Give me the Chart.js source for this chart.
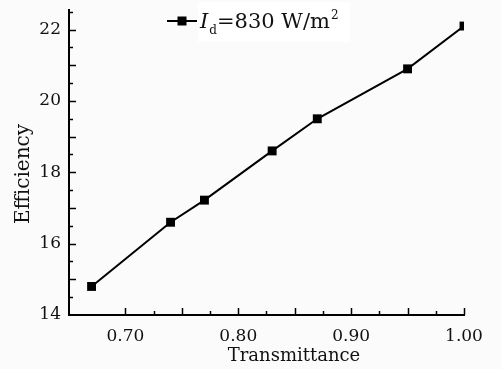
<!DOCTYPE html>
<html lang="en">
<head>
    <meta charset="UTF-8">
    <title>Efficiency vs Transmittance</title>
    <script src="https://cdnjs.cloudflare.com/ajax/libs/Chart.js/4.4.1/chart.umd.min.js"></script>
    <style>
        body {
            margin: 0;
            background: #fbfbfb;
        }
        #wrap {
            width: 501px;
            height: 369px;
        }
    </style>
</head>
<body>
    <div id="wrap"><canvas id="effChart" width="501" height="369"></canvas></div>

    <script>
        const transmittance = [0.67, 0.74, 0.77, 0.83, 0.87, 0.95, 1.00];
        const efficiency = [14.8, 16.6, 17.22, 18.6, 19.5, 20.9, 22.1];
        const xLabels = [0.70, 0.80, 0.90, 1.00];
        const yLabels = [14, 16, 18, 20, 22];

        const SERIF = '"DejaVu Serif", serif';

        function isNear(v, list) {
            return list.some(l => Math.abs(l - v) < 1e-6);
        }

        // inward tick marks, axis titles and the legend box
        const decorations = {
            id: 'decorations',
            afterDraw(chart) {
                const ctx = chart.ctx;
                const area = chart.chartArea;
                const xs = chart.scales.x;
                const ys = chart.scales.y;
                ctx.save();
                ctx.strokeStyle = '#000';
                ctx.lineWidth = 1.5;

                xs.ticks.forEach(t => {
                    if (t.value < 0.699) return;
                    const px = Math.round(xs.getPixelForValue(t.value)) + 0.5;
                    const major = Math.abs(t.value * 20 - Math.round(t.value * 20)) < 1e-6;
                    const len = major ? 7 : 4;
                    ctx.beginPath();
                    ctx.moveTo(px, area.bottom);
                    ctx.lineTo(px, area.bottom - len);
                    ctx.stroke();
                });
                ys.ticks.forEach(t => {
                    if (t.value <= ys.min) return;
                    const py = Math.round(ys.getPixelForValue(t.value)) + 0.5;
                    const major = Math.abs(t.value - Math.round(t.value)) < 1e-6;
                    const len = major ? 7 : 4;
                    ctx.beginPath();
                    ctx.moveTo(area.left, py);
                    ctx.lineTo(area.left + len, py);
                    ctx.stroke();
                });

                // axis titles
                ctx.fillStyle = '#111';
                ctx.font = '18px ' + SERIF;
                ctx.textAlign = 'center';
                ctx.textBaseline = 'alphabetic';
                ctx.fillText('Transmittance', 294, 361);

                ctx.save();
                ctx.translate(29, 174);
                ctx.rotate(-Math.PI / 2);
                ctx.font = '20px ' + SERIF;
                ctx.fillText('Efficiency', 0, 0);
                ctx.restore();

                // legend
                const ds = chart.data.datasets[0];
                ctx.fillStyle = '#ffffff';
                ctx.fillRect(198, 2, 152, 40);
                ctx.strokeStyle = ds.borderColor;
                ctx.lineWidth = 2;
                ctx.beginPath();
                ctx.moveTo(167, 21);
                ctx.lineTo(197, 21);
                ctx.stroke();
                ctx.fillStyle = ds.pointBackgroundColor;
                ctx.fillRect(177.5, 16.5, 9, 9);

                ctx.fillStyle = '#111';
                ctx.textAlign = 'left';
                let x = 200;
                ctx.font = 'italic 21px ' + SERIF;
                ctx.fillText('I', x, 28);
                x += ctx.measureText('I').width + 1;
                ctx.font = '12px ' + SERIF;
                ctx.fillText('d', x, 34);
                x += ctx.measureText('d').width;
                ctx.font = '21px ' + SERIF;
                ctx.fillText('=830 W/m', x, 28);
                x += ctx.measureText('=830 W/m').width + 1;
                ctx.font = '12px ' + SERIF;
                ctx.fillText('2', x, 19);
                ctx.restore();
            }
        };

        const ctx = document.getElementById('effChart').getContext('2d');
        new Chart(ctx, {
            type: 'line',
            data: {
                datasets: [{
                    label: 'Id=830 W/m2',
                    data: transmittance.map((t, i) => ({ x: t, y: efficiency[i] })),
                    borderColor: '#000',
                    borderWidth: 2,
                    pointStyle: 'rect',
                    pointRadius: 6.3,
                    pointBackgroundColor: '#000',
                    pointBorderColor: '#000',
                    pointBorderWidth: 0,
                    tension: 0,
                    clip: 0
                }]
            },
            options: {
                responsive: false,
                animation: false,
                layout: {
                    padding: { left: 0, right: 37, top: 10, bottom: 0 }
                },
                plugins: {
                    legend: { display: false },
                    tooltip: { enabled: false }
                },
                scales: {
                    x: {
                        type: 'linear',
                        min: 0.65,
                        max: 1.0,
                        afterFit(scale) {
                            scale.height = 54;
                            scale.paddingLeft = 0;
                            scale.paddingRight = 0;
                        },
                        border: { display: true, color: '#000', width: 2 },
                        grid: { display: false, drawTicks: false },
                        ticks: {
                            stepSize: 0.025,
                            includeBounds: false,
                            autoSkip: false,
                            maxRotation: 0,
                            padding: 11,
                            color: '#111',
                            font: { family: SERIF, size: 17 },
                            callback: v => isNear(v, xLabels) ? v.toFixed(2) : ''
                        }
                    },
                    y: {
                        type: 'linear',
                        min: 14,
                        max: 22.55,
                        afterFit(scale) {
                            scale.width = 69;
                            scale.paddingTop = 0;
                            scale.paddingBottom = 0;
                        },
                        border: { display: true, color: '#000', width: 2 },
                        grid: { display: false, drawTicks: false },
                        ticks: {
                            stepSize: 0.5,
                            includeBounds: false,
                            autoSkip: false,
                            padding: 8,
                            color: '#111',
                            font: { family: SERIF, size: 17 },
                            callback: v => isNear(v, yLabels) ? String(v) : ''
                        }
                    }
                }
            },
            plugins: [decorations]
        });
    </script>
</body>
</html>
